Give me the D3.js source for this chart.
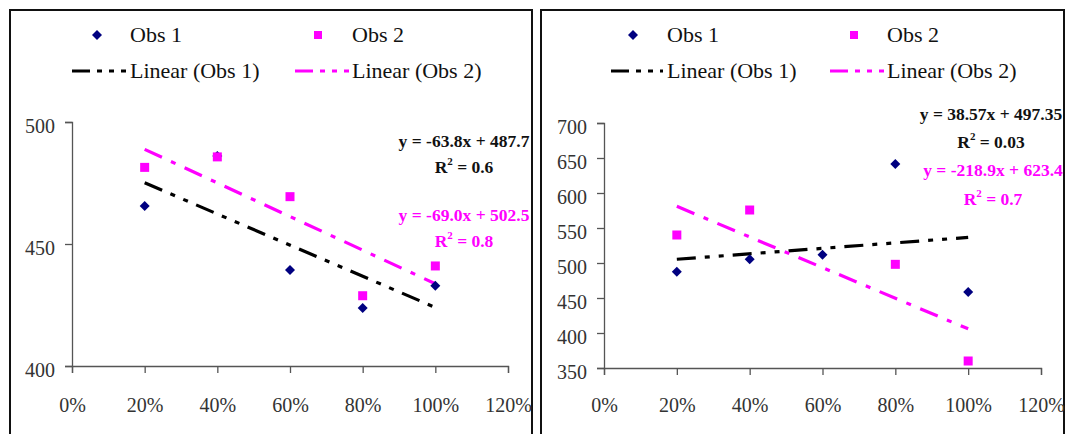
<!DOCTYPE html>
<html>
<head>
<meta charset="utf-8">
<script src="https://cdn.jsdelivr.net/npm/d3@7"></script>
<style>
  html, body { margin: 0; padding: 0; background: #fff; }
  svg { display: block; }
</style>
</head>
<body>
<svg id="chart" width="1070" height="434" font-family="'Liberation Serif'"></svg>
<script>
// ---------------- data ----------------
const xValues = [0.2, 0.4, 0.6, 0.8, 1.0];
const xTicks = [0, 0.2, 0.4, 0.6, 0.8, 1.0, 1.2];

const leftObs1 = [465.6, 486.1, 439.3, 423.8, 432.9];
const leftObs2 = [481.4, 485.7, 469.4, 428.8, 441.0];
const leftYTicks = [400, 450, 500];
const leftEq1 = ["y = -63.8x + 487.7", "0.6"];
const leftEq2 = ["y = -69.0x + 502.5", "0.8"];

const rightObs1 = [487.6, 505.3, 511.9, 641.4, 458.6];
const rightObs2 = [540.0, 575.7, null, 498.1, 360.0];
const rightYTicks = [350, 400, 450, 500, 550, 600, 650, 700];
const rightEq1 = ["y = 38.57x + 497.35", "0.03"];
const rightEq2 = ["y = -218.9x + 623.4", "0.7"];

const seriesNames = ["Obs 1", "Obs 2"];
const trendNames = ["Linear (Obs 1)", "Linear (Obs 2)"];

// ---------------- styles ----------------
const FONT = "'Liberation Serif'";
const NAVY = "#000080", MAGENTA = "#FF00FF";
const DASH1 = "19,9,5,9,5,9";   // long dash dot dot
const DASH2 = "19,10,5,10";     // long dash dot

const svg = d3.select("#chart");

function fit(xs, ys) {
  const pts = xs.map((x, i) => [x, ys[i]]).filter(p => p[1] != null);
  const mx = d3.mean(pts, p => p[0]), my = d3.mean(pts, p => p[1]);
  const sxy = d3.sum(pts, p => (p[0] - mx) * (p[1] - my));
  const sxx = d3.sum(pts, p => (p[0] - mx) ** 2);
  const b = sxy / sxx;
  return { b, a: my - b * mx, x0: d3.min(pts, p => p[0]), x1: d3.max(pts, p => p[0]) };
}

function panel(cfg) {
  const g = svg.append("g").attr("font-family", FONT);
  // border
  g.append("path")
    .attr("d", `M${cfg.bx0},440 V${10} H${cfg.bx1} V440`)
    .attr("fill", "none").attr("stroke", "#111").attr("stroke-width", 2);

  const x = d3.scaleLinear().domain([0, 1.2]).range(cfg.xr);
  const y = d3.scaleLinear().domain(cfg.yd).range(cfg.yr);

  // axes
  const ya = g.append("g").attr("transform", `translate(${cfg.xr[0]},0)`)
    .call(d3.axisLeft(y).tickValues(cfg.yTicks).tickSize(7).tickPadding(10).tickFormat(d3.format("d")));
  const xa = g.append("g").attr("transform", `translate(0,${cfg.yr[0]})`)
    .call(d3.axisBottom(x).tickValues(xTicks).tickSize(7).tickPadding(cfg.xpad).tickFormat(d3.format(".0%")));
  [ya, xa].forEach(a => {
    a.attr("font-family", FONT).attr("font-size", 20);
    a.select(".domain").attr("stroke", "#555").attr("stroke-width", 1.3);
    a.selectAll(".tick line").attr("stroke", "#555").attr("stroke-width", 1.3);
    a.selectAll("text").attr("font-size", 20).attr("fill", "#333").attr("font-family", FONT);
  });
  ya.selectAll("text").attr("dy", "0.5em");

  // trendlines
  [[cfg.s1, "#000", DASH1], [cfg.s2, MAGENTA, DASH2]].forEach(([s, c, d]) => {
    const f = fit(xValues, s);
    g.append("line")
      .attr("x1", x(f.x0)).attr("y1", y(f.a + f.b * f.x0))
      .attr("x2", x(f.x1)).attr("y2", y(f.a + f.b * f.x1))
      .attr("stroke", c).attr("stroke-width", 3.2).attr("stroke-dasharray", d);
  });

  // Obs 1 diamonds
  g.selectAll(".d1").data(xValues.map((v, i) => [v, cfg.s1[i]]).filter(p => p[1] != null))
    .enter().append("path")
    .attr("d", "M0,-5 L5,0 L0,5 L-5,0 Z")
    .attr("transform", p => `translate(${x(p[0])},${y(p[1])})`)
    .attr("fill", NAVY);
  // Obs 2 squares
  g.selectAll(".d2").data(xValues.map((v, i) => [v, cfg.s2[i]]).filter(p => p[1] != null))
    .enter().append("rect")
    .attr("x", p => x(p[0]) - 4.5).attr("y", p => y(p[1]) - 4.5)
    .attr("width", 9).attr("height", 9)
    .attr("fill", MAGENTA);

  // equations
  function eq(lines, color, cx, y1, y2) {
    g.append("text").attr("x", cx).attr("y", y1).attr("text-anchor", "middle").attr("font-family", FONT)
      .attr("font-size", 17.5).attr("font-weight", "bold").attr("fill", color).text(lines[0]);
    const t = g.append("text").attr("x", cx).attr("y", y2).attr("text-anchor", "middle").attr("font-family", FONT)
      .attr("font-size", 17.5).attr("font-weight", "bold").attr("fill", color);
    t.append("tspan").text("R");
    t.append("tspan").attr("font-size", 11).attr("dy", -8).text("2");
    t.append("tspan").attr("dy", 8).text(" = " + lines[1]);
  }
  eq(cfg.eq1, "#111", cfg.eqx1, cfg.eqy[0], cfg.eqy[1]);
  eq(cfg.eq2, MAGENTA, cfg.eqx2, cfg.eqy[2], cfg.eqy[3]);

  // legend
  const L = cfg.leg;
  const lg = g.append("g").attr("font-size", 22).attr("fill", "#111").attr("font-family", FONT);
  lg.append("path").attr("d", "M0,-5 L5,0 L0,5 L-5,0 Z")
    .attr("transform", `translate(${L.m1},35)`).attr("fill", NAVY);
  lg.append("text").attr("x", L.t1).attr("y", 42).text(seriesNames[0]);
  lg.append("rect").attr("x", L.m2 - 4).attr("y", 31).attr("width", 8).attr("height", 8).attr("fill", MAGENTA);
  lg.append("text").attr("x", L.t2).attr("y", 42).text(seriesNames[1]);
  lg.append("line").attr("x1", L.l1[0]).attr("x2", L.l1[1]).attr("y1", 71).attr("y2", 71)
    .attr("stroke", "#000").attr("stroke-width", 3.2).attr("stroke-dasharray", "18,7,5,7,5,7");
  lg.append("text").attr("x", L.t1).attr("y", 78).text(trendNames[0]);
  lg.append("line").attr("x1", L.l2[0]).attr("x2", L.l2[1]).attr("y1", 71).attr("y2", 71)
    .attr("stroke", MAGENTA).attr("stroke-width", 3.2).attr("stroke-dasharray", "18,7,5,7,5,7");
  lg.append("text").attr("x", L.t2).attr("y", 78).text(trendNames[1]);
}

panel({
  bx0: 10, bx1: 532,
  xr: [72, 508], yd: [400, 500], yr: [366, 122], yTicks: leftYTicks, xpad: 25,
  s1: leftObs1, s2: leftObs2, eq1: leftEq1, eq2: leftEq2,
  eqx1: 464, eqx2: 464, eqy: [147, 173, 221, 247],
  leg: { m1: 97, t1: 130, m2: 318, t2: 352, l1: [72, 126], l2: [295, 349] }
});
panel({
  bx0: 541, bx1: 1064,
  xr: [604, 1041], yd: [350, 700], yr: [368, 123], yTicks: rightYTicks, xpad: 23,
  s1: rightObs1, s2: rightObs2, eq1: rightEq1, eq2: rightEq2,
  eqx1: 991, eqx2: 993, eqy: [120, 148, 176, 205],
  leg: { m1: 633, t1: 667, m2: 854, t2: 887, l1: [611, 663], l2: [830, 884] }
});
</script>
</body>
</html>
